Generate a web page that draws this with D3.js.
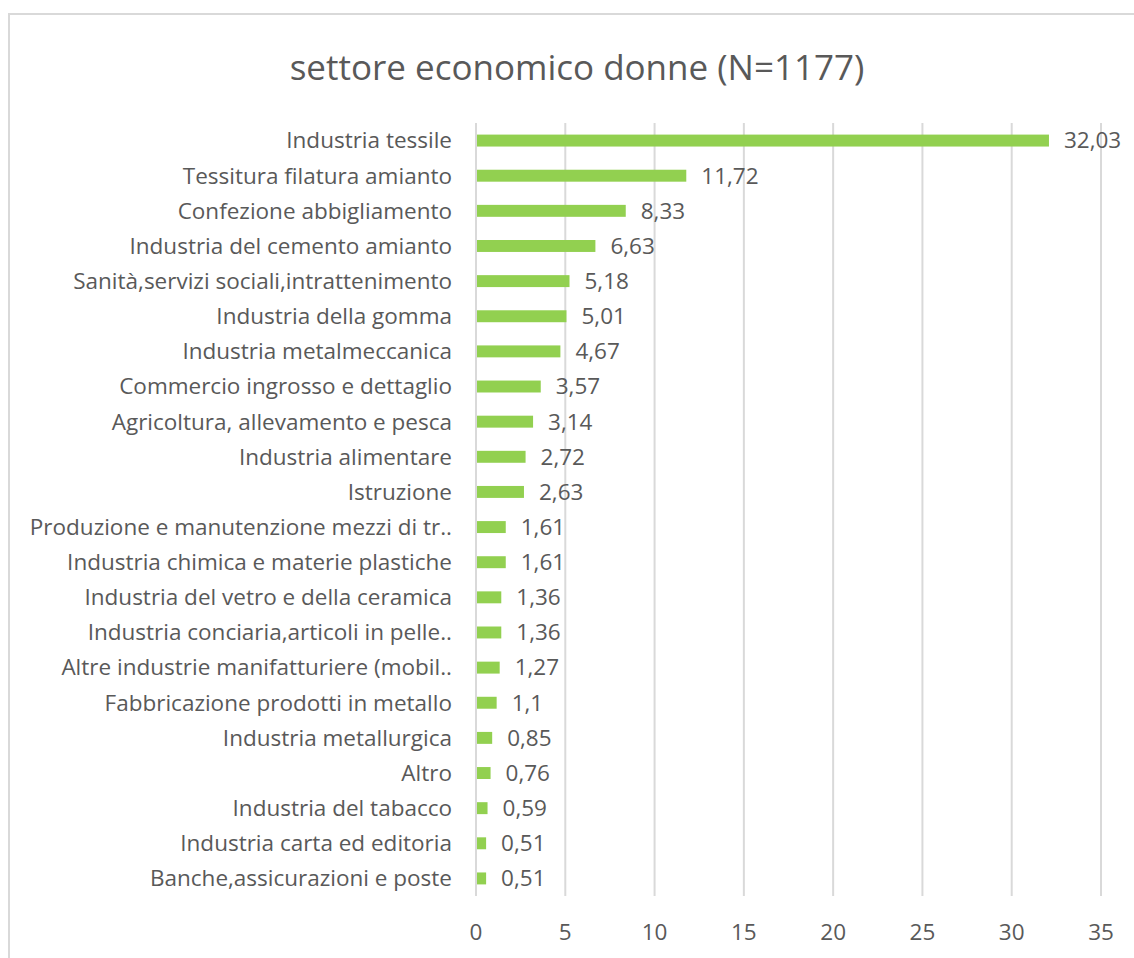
<!DOCTYPE html>
<html lang="it">
<head>
    <meta charset="UTF-8">
    <title>settore economico donne</title>
    <script src="https://d3js.org/d3.v7.min.js"></script>
    <style>
        body { margin: 0; background: #fff; }
        text { font-family: "Open Sans", "Liberation Sans", sans-serif; fill: #595959; }
        .bar { fill: #92D050; }
        .grid line { stroke: #D9D9D9; stroke-width: 2; }
        .cat-label { font-size: 22.5px; text-anchor: end; }
        .val-label { font-size: 22.5px; }
        .tick-label { font-size: 22.5px; text-anchor: middle; }
        .title { font-size: 35px; text-anchor: middle; }
    </style>
</head>
<body>
    <script>
        const categories = [
            'Industria tessile',
            'Tessitura filatura amianto',
            'Confezione abbigliamento',
            'Industria del cemento amianto',
            'Sanità,servizi sociali,intrattenimento',
            'Industria della gomma',
            'Industria metalmeccanica',
            'Commercio ingrosso e dettaglio',
            'Agricoltura, allevamento e pesca',
            'Industria alimentare',
            'Istruzione',
            'Produzione e manutenzione mezzi di tr..',
            'Industria chimica e materie plastiche',
            'Industria del vetro e della ceramica',
            'Industria conciaria,articoli in pelle..',
            'Altre industrie manifatturiere (mobil..',
            'Fabbricazione prodotti in metallo',
            'Industria metallurgica',
            'Altro',
            'Industria del tabacco',
            'Industria carta ed editoria',
            'Banche,assicurazioni e poste'
        ];
        const values = [32.03, 11.72, 8.33, 6.63, 5.18, 5.01, 4.67, 3.57, 3.14, 2.72, 2.63,
                        1.61, 1.61, 1.36, 1.36, 1.27, 1.1, 0.85, 0.76, 0.59, 0.51, 0.51];
        const xTicks = [0, 5, 10, 15, 20, 25, 30, 35];
        const title = 'settore economico donne (N=1177)';

        const data = categories.map((c, i) => ({ name: c, value: values[i] }));
        const fmt = v => String(v).replace('.', ',');

        const width = 1134, height = 958;
        const svg = d3.select('body').append('svg')
            .attr('width', width)
            .attr('height', height);

        // chart area border (Excel style)
        svg.append('rect')
            .attr('x', 9).attr('y', 14)
            .attr('width', 1140).attr('height', 960)
            .attr('fill', 'none')
            .attr('stroke', '#D9D9D9')
            .attr('stroke-width', 2);

        const x = d3.scaleLinear().domain([0, 35]).range([476, 1101]);
        const y = d3.scaleBand()
            .domain(categories)
            .range([123, 896])
            .paddingInner(0.66)
            .paddingOuter(0.33);

        // gridlines
        svg.append('g').attr('class', 'grid')
            .selectAll('line')
            .data(xTicks)
            .join('line')
            .attr('x1', d => x(d)).attr('x2', d => x(d))
            .attr('y1', 123).attr('y2', 896);

        svg.selectAll('.bar')
            .data(data)
            .join('rect')
            .attr('class', 'bar')
            .attr('x', x(0) + 1)
            .attr('y', d => y(d.name))
            .attr('width', d => x(d.value) - x(0))
            .attr('height', y.bandwidth());

        svg.selectAll('.val-label')
            .data(data)
            .join('text')
            .attr('class', 'val-label')
            .attr('x', d => x(d.value) + 16)
            .attr('y', d => y(d.name) + y.bandwidth() / 2)
            .attr('dy', '0.35em')
            .text(d => fmt(d.value));

        svg.selectAll('.cat-label')
            .data(data)
            .join('text')
            .attr('class', 'cat-label')
            .attr('x', 452)
            .attr('y', d => y(d.name) + y.bandwidth() / 2)
            .attr('dy', '0.35em')
            .text(d => d.name);

        svg.selectAll('.tick-label')
            .data(xTicks)
            .join('text')
            .attr('class', 'tick-label')
            .attr('x', d => x(d))
            .attr('y', 932)
            .attr('dy', '0.35em')
            .text(d => d);

        svg.append('text')
            .attr('class', 'title')
            .attr('x', 577)
            .attr('y', 68)
            .attr('dy', '0.35em')
            .text(title);
    </script>
</body>
</html>
